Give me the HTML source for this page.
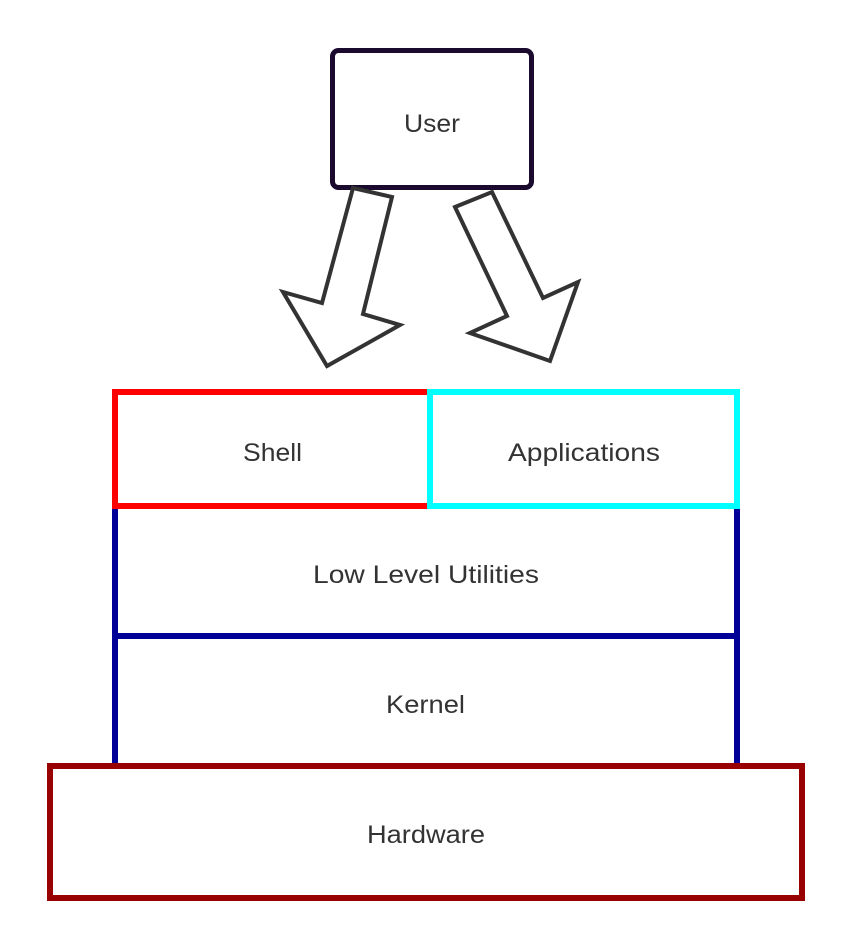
<!DOCTYPE html>
<html><head><meta charset="utf-8"><style>
html,body{margin:0;padding:0;background:#fff;}
svg{display:block;}
text{font-family:"Liberation Sans",Arial,sans-serif;font-size:25px;fill:#333;}
</style></head><body>
<svg width="852" height="948" viewBox="0 0 852 948" xmlns="http://www.w3.org/2000/svg">
<rect x="0" y="0" width="852" height="948" fill="#fff"/>
<rect x="332.5" y="50.5" width="199" height="137" rx="6" fill="#fff" stroke="#1a0a2e" stroke-width="5"/>
<text x="432" y="132" text-anchor="middle" textLength="56" lengthAdjust="spacingAndGlyphs">User</text>
<polygon points="353,188 392,197 363,314 400,325 327,366 283,292 322,303" fill="#fff" stroke="#333" stroke-width="4"/>
<polygon points="455,207 492,192 543,298 578,282 550,361 470,333 507,316" fill="#fff" stroke="#333" stroke-width="4"/>
<rect x="115" y="506" width="622" height="260" fill="none" stroke="#000099" stroke-width="6"/>
<line x1="115" y1="636" x2="737" y2="636" stroke="#000099" stroke-width="6"/>
<rect x="50" y="766" width="752" height="132" fill="none" stroke="#990000" stroke-width="6"/>
<rect x="115" y="392" width="315" height="114" fill="none" stroke="#ff0000" stroke-width="6"/>
<rect x="430" y="392" width="307" height="114" fill="none" stroke="#00ffff" stroke-width="6"/>
<text x="272.5" y="461" text-anchor="middle" textLength="59" lengthAdjust="spacingAndGlyphs">Shell</text>
<text x="584" y="461" text-anchor="middle" textLength="152" lengthAdjust="spacingAndGlyphs">Applications</text>
<text x="426" y="583" text-anchor="middle" textLength="226" lengthAdjust="spacingAndGlyphs">Low Level Utilities</text>
<text x="425.5" y="713" text-anchor="middle" textLength="79" lengthAdjust="spacingAndGlyphs">Kernel</text>
<text x="426" y="843" text-anchor="middle" textLength="118" lengthAdjust="spacingAndGlyphs">Hardware</text>
</svg>
</body></html>
